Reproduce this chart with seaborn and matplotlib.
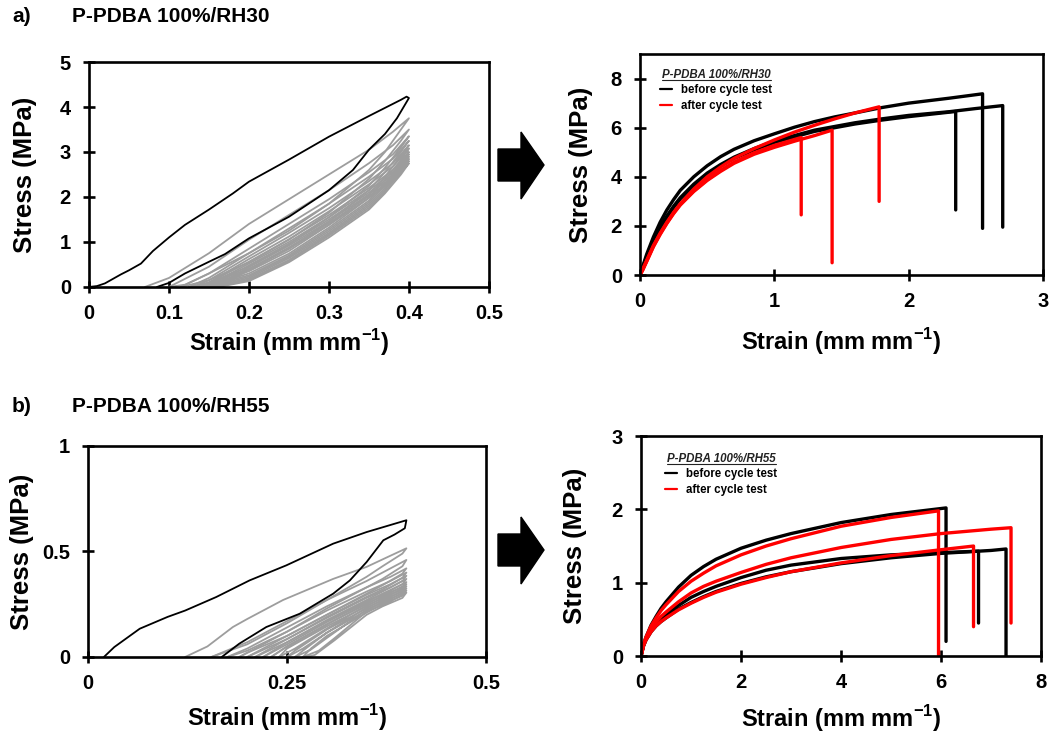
import matplotlib
matplotlib.use("Agg")
import pandas as pd
import seaborn as sns
import matplotlib.pyplot as plt
from matplotlib.patches import Polygon
from matplotlib.lines import Line2D
from matplotlib.ticker import FuncFormatter

# ---------------- a) cyclic test, RH30 ----------------
a_first_strain = [0, 0.01, 0.02, 0.03, 0.04, 0.05, 0.065, 0.08, 0.1, 0.12, 0.15, 0.18, 0.2, 0.25, 0.3, 0.35, 0.39, 0.397,
                  0.4, 0.395, 0.385, 0.37, 0.35, 0.33, 0.3, 0.25, 0.2, 0.17, 0.15, 0.12, 0.1, 0.085]
a_first_stress = [0, 0.02, 0.08, 0.18, 0.28, 0.37, 0.52, 0.8, 1.1, 1.38, 1.72, 2.08, 2.34, 2.83, 3.34, 3.8, 4.16, 4.23,
                  4.2, 4.05, 3.75, 3.4, 3.05, 2.6, 2.15, 1.56, 1.08, 0.73, 0.56, 0.3, 0.09, 0.0]

a_cycle_strain = [
    [0.07, 0.1, 0.15, 0.2, 0.25, 0.3, 0.35, 0.38, 0.4, 0.39, 0.37, 0.35, 0.3, 0.25, 0.2, 0.15, 0.12, 0.1],
    [0.1, 0.15, 0.2, 0.25, 0.3, 0.35, 0.38, 0.4, 0.39, 0.37, 0.35, 0.3, 0.25, 0.2, 0.15, 0.115],
    [0.115, 0.15, 0.2, 0.25, 0.3, 0.35, 0.38, 0.4, 0.39, 0.37, 0.35, 0.3, 0.25, 0.2, 0.15, 0.125],
    [0.125, 0.15, 0.2, 0.25, 0.3, 0.35, 0.38, 0.4, 0.39, 0.37, 0.35, 0.3, 0.25, 0.2, 0.15, 0.13],
    [0.13, 0.15, 0.2, 0.25, 0.3, 0.35, 0.38, 0.4, 0.39, 0.37, 0.35, 0.3, 0.25, 0.2, 0.15, 0.135],
    [0.135, 0.15, 0.2, 0.25, 0.3, 0.35, 0.38, 0.4, 0.39, 0.37, 0.35, 0.3, 0.25, 0.2, 0.15, 0.14],
    [0.14, 0.2, 0.25, 0.3, 0.35, 0.38, 0.4, 0.39, 0.37, 0.35, 0.3, 0.25, 0.2, 0.145],
    [0.145, 0.2, 0.25, 0.3, 0.35, 0.38, 0.4, 0.39, 0.37, 0.35, 0.3, 0.25, 0.2, 0.15],
    [0.15, 0.2, 0.25, 0.3, 0.35, 0.38, 0.4, 0.39, 0.37, 0.35, 0.3, 0.25, 0.2, 0.155],
    [0.155, 0.2, 0.25, 0.3, 0.35, 0.38, 0.4, 0.39, 0.37, 0.35, 0.3, 0.25, 0.2, 0.158],
    [0.158, 0.2, 0.25, 0.3, 0.35, 0.38, 0.4, 0.39, 0.37, 0.35, 0.3, 0.25, 0.2, 0.16],
    [0.16, 0.2, 0.25, 0.3, 0.35, 0.38, 0.4, 0.39, 0.37, 0.35, 0.3, 0.25, 0.2, 0.162],
]
a_cycle_stress = [
    [0, 0.2, 0.75, 1.4, 1.95, 2.5, 3.05, 3.45, 3.75, 3.5, 3.0, 2.6, 1.85, 1.25, 0.75, 0.3, 0.05, 0],
    [0, 0.45, 1.05, 1.6, 2.15, 2.75, 3.15, 3.5, 3.25, 2.8, 2.4, 1.65, 1.05, 0.55, 0.15, 0],
    [0, 0.3, 0.85, 1.4, 1.95, 2.55, 2.95, 3.35, 3.1, 2.65, 2.25, 1.55, 0.95, 0.45, 0.1, 0],
    [0, 0.2, 0.75, 1.3, 1.85, 2.45, 2.85, 3.25, 3.0, 2.55, 2.15, 1.45, 0.85, 0.4, 0.08, 0],
    [0, 0.15, 0.68, 1.2, 1.75, 2.35, 2.75, 3.15, 2.9, 2.45, 2.05, 1.38, 0.8, 0.35, 0.05, 0],
    [0, 0.1, 0.62, 1.12, 1.68, 2.28, 2.68, 3.08, 2.82, 2.38, 1.98, 1.32, 0.74, 0.3, 0.03, 0],
    [0, 0.56, 1.06, 1.6, 2.2, 2.6, 3.0, 2.75, 2.3, 1.92, 1.28, 0.7, 0.26, 0],
    [0, 0.52, 1.0, 1.55, 2.15, 2.55, 2.95, 2.7, 2.25, 1.88, 1.24, 0.67, 0.23, 0],
    [0, 0.48, 0.96, 1.5, 2.1, 2.5, 2.9, 2.65, 2.2, 1.84, 1.2, 0.64, 0.2, 0],
    [0, 0.44, 0.92, 1.46, 2.06, 2.45, 2.85, 2.6, 2.16, 1.8, 1.17, 0.6, 0.17, 0],
    [0, 0.4, 0.88, 1.42, 2.02, 2.4, 2.8, 2.55, 2.12, 1.76, 1.14, 0.58, 0.15, 0],
    [0, 0.37, 0.85, 1.38, 1.98, 2.36, 2.75, 2.5, 2.08, 1.72, 1.1, 0.55, 0.13, 0],
]

# ---------------- a) tensile test, RH30 ----------------
a_tensile_strain = [
    [0, 0.02, 0.05, 0.1, 0.15, 0.2, 0.25, 0.3, 0.4, 0.5, 0.6, 0.7, 0.85, 1.0, 1.15, 1.3, 1.45, 1.6, 1.8, 2.0, 2.3, 2.55, 2.55],
    [0, 0.02, 0.05, 0.1, 0.15, 0.2, 0.25, 0.3, 0.4, 0.5, 0.6, 0.7, 0.85, 1.0, 1.15, 1.3, 1.45, 1.6, 1.8, 2.0, 2.3, 2.5, 2.7, 2.7],
    [0, 0.02, 0.05, 0.1, 0.15, 0.2, 0.25, 0.3, 0.4, 0.5, 0.6, 0.7, 0.85, 1.0, 1.15, 1.3, 1.45, 1.6, 1.8, 2.0, 2.3, 2.35, 2.35],
    [0, 0.02, 0.05, 0.1, 0.15, 0.2, 0.25, 0.3, 0.4, 0.5, 0.6, 0.7, 0.85, 1.0, 1.15, 1.3, 1.45, 1.6, 1.78, 1.78],
    [0, 0.02, 0.05, 0.1, 0.15, 0.2, 0.25, 0.3, 0.4, 0.5, 0.6, 0.7, 0.85, 1.0, 1.15, 1.3, 1.43, 1.43],
    [0, 0.02, 0.05, 0.1, 0.15, 0.2, 0.25, 0.3, 0.4, 0.5, 0.6, 0.7, 0.85, 1.0, 1.15, 1.2, 1.2],
]
a_tensile_stress = [
    [0, 0.35, 0.85, 1.55, 2.15, 2.65, 3.07, 3.45, 4.0, 4.45, 4.82, 5.12, 5.47, 5.75, 6.02, 6.25, 6.44, 6.6, 6.82, 7.0, 7.2, 7.38, 1.9],
    [0, 0.3, 0.75, 1.4, 1.95, 2.4, 2.8, 3.15, 3.7, 4.15, 4.5, 4.8, 5.15, 5.45, 5.68, 5.9, 6.05, 6.2, 6.36, 6.5, 6.65, 6.78, 6.9, 1.95],
    [0, 0.28, 0.72, 1.35, 1.9, 2.35, 2.75, 3.1, 3.65, 4.1, 4.45, 4.75, 5.1, 5.4, 5.63, 5.85, 6.0, 6.15, 6.31, 6.45, 6.63, 6.66, 2.65],
    [0, 0.22, 0.6, 1.2, 1.7, 2.15, 2.55, 2.9, 3.5, 4.0, 4.4, 4.75, 5.15, 5.5, 5.82, 6.1, 6.36, 6.6, 6.85, 3.0],
    [0, 0.2, 0.55, 1.15, 1.65, 2.1, 2.5, 2.85, 3.4, 3.85, 4.22, 4.55, 4.92, 5.2, 5.45, 5.68, 5.9, 0.5],
    [0, 0.21, 0.57, 1.18, 1.68, 2.12, 2.52, 2.88, 3.42, 3.88, 4.26, 4.6, 4.98, 5.28, 5.52, 5.6, 2.45],
]
a_tensile_group = ["before cycle test", "before cycle test", "before cycle test",
                   "after cycle test", "after cycle test", "after cycle test"]

# ---------------- b) cyclic test, RH55 ----------------
b_first_strain = [0.02, 0.033, 0.065, 0.1, 0.122, 0.161, 0.203, 0.249, 0.308, 0.35, 0.4,
                  0.398, 0.385, 0.371, 0.35, 0.329, 0.308, 0.266, 0.224, 0.19, 0.168]
b_first_stress = [0, 0.047, 0.134, 0.19, 0.22, 0.284, 0.363, 0.434, 0.537, 0.592, 0.648,
                  0.61, 0.58, 0.553, 0.45, 0.363, 0.30, 0.205, 0.142, 0.063, 0]

b_cycle_strain = [
    [0.122, 0.15, 0.182, 0.2, 0.245, 0.308, 0.35, 0.38, 0.4, 0.395, 0.37, 0.35, 0.3, 0.25, 0.2, 0.155],
    [0.155, 0.2, 0.25, 0.3, 0.35, 0.38, 0.4, 0.395, 0.37, 0.35, 0.3, 0.25, 0.2, 0.175],
    [0.175, 0.2, 0.25, 0.3, 0.35, 0.38, 0.4, 0.395, 0.37, 0.35, 0.3, 0.25, 0.2, 0.19],
    [0.19, 0.25, 0.3, 0.35, 0.38, 0.4, 0.395, 0.37, 0.35, 0.3, 0.25, 0.2],
    [0.2, 0.25, 0.3, 0.35, 0.38, 0.4, 0.395, 0.37, 0.35, 0.3, 0.25, 0.21],
    [0.21, 0.25, 0.3, 0.35, 0.38, 0.4, 0.395, 0.37, 0.35, 0.3, 0.25, 0.22],
    [0.22, 0.25, 0.3, 0.35, 0.38, 0.4, 0.395, 0.37, 0.35, 0.3, 0.25, 0.23],
    [0.23, 0.25, 0.3, 0.35, 0.38, 0.4, 0.395, 0.37, 0.35, 0.3, 0.25, 0.24],
    [0.24, 0.26, 0.3, 0.35, 0.38, 0.4, 0.395, 0.37, 0.35, 0.3, 0.26, 0.25],
    [0.25, 0.27, 0.3, 0.35, 0.38, 0.4, 0.395, 0.37, 0.35, 0.3, 0.27, 0.26],
    [0.26, 0.28, 0.3, 0.35, 0.38, 0.4, 0.395, 0.37, 0.35, 0.3, 0.28, 0.27],
    [0.27, 0.29, 0.31, 0.35, 0.38, 0.4, 0.395, 0.37, 0.35, 0.31, 0.285, 0.275],
]
b_cycle_stress = [
    [0, 0.05, 0.142, 0.18, 0.27, 0.37, 0.427, 0.48, 0.515, 0.49, 0.43, 0.38, 0.27, 0.16, 0.06, 0],
    [0, 0.07, 0.17, 0.27, 0.36, 0.42, 0.46, 0.43, 0.37, 0.33, 0.23, 0.12, 0.03, 0],
    [0, 0.04, 0.14, 0.24, 0.33, 0.38, 0.42, 0.395, 0.34, 0.30, 0.20, 0.10, 0.02, 0],
    [0, 0.12, 0.22, 0.31, 0.36, 0.4, 0.375, 0.32, 0.285, 0.19, 0.085, 0],
    [0, 0.1, 0.2, 0.295, 0.345, 0.385, 0.36, 0.31, 0.27, 0.175, 0.07, 0],
    [0, 0.085, 0.185, 0.28, 0.33, 0.37, 0.345, 0.3, 0.26, 0.165, 0.06, 0],
    [0, 0.07, 0.17, 0.265, 0.315, 0.355, 0.33, 0.29, 0.25, 0.155, 0.05, 0],
    [0, 0.05, 0.155, 0.255, 0.305, 0.345, 0.32, 0.28, 0.24, 0.145, 0.04, 0],
    [0, 0.04, 0.135, 0.245, 0.295, 0.335, 0.31, 0.27, 0.23, 0.13, 0.03, 0],
    [0, 0.04, 0.115, 0.235, 0.285, 0.325, 0.3, 0.26, 0.22, 0.115, 0.03, 0],
    [0, 0.035, 0.09, 0.225, 0.275, 0.315, 0.29, 0.25, 0.21, 0.1, 0.04, 0],
    [0, 0.03, 0.09, 0.215, 0.265, 0.305, 0.28, 0.24, 0.2, 0.08, 0.01, 0],
]

# ---------------- b) tensile test, RH55 ----------------
b_tensile_strain = [
    [0, 0.05, 0.1, 0.2, 0.3, 0.4, 0.5, 0.75, 1.0, 1.25, 1.5, 2, 2.5, 3, 4, 5, 6.1, 6.1],
    [0, 0.05, 0.1, 0.2, 0.3, 0.4, 0.5, 0.75, 1.0, 1.25, 1.5, 2, 2.5, 3, 4, 5, 6, 6.75, 6.75],
    [0, 0.05, 0.1, 0.2, 0.3, 0.4, 0.5, 0.75, 1.0, 1.25, 1.5, 2, 2.5, 3, 4, 5, 6, 7, 7.3, 7.3],
    [0, 0.05, 0.1, 0.2, 0.3, 0.4, 0.5, 0.75, 1.0, 1.25, 1.5, 2, 2.5, 3, 4, 5, 5.95, 5.95],
    [0, 0.05, 0.1, 0.2, 0.3, 0.4, 0.5, 0.75, 1.0, 1.25, 1.5, 2, 2.5, 3, 4, 5, 6, 7, 7.4, 7.4],
    [0, 0.05, 0.1, 0.2, 0.3, 0.4, 0.5, 0.75, 1.0, 1.25, 1.5, 2, 2.5, 3, 4, 5, 6, 6.65, 6.65],
]
b_tensile_stress = [
    [0, 0.16, 0.26, 0.42, 0.54, 0.65, 0.74, 0.94, 1.1, 1.22, 1.32, 1.47, 1.58, 1.67, 1.82, 1.93, 2.02, 0.2],
    [0, 0.14, 0.23, 0.35, 0.43, 0.5, 0.56, 0.69, 0.8, 0.88, 0.95, 1.07, 1.17, 1.24, 1.33, 1.38, 1.41, 1.43, 0.45],
    [0, 0.14, 0.22, 0.33, 0.41, 0.47, 0.52, 0.64, 0.73, 0.81, 0.88, 0.99, 1.08, 1.15, 1.26, 1.34, 1.4, 1.44, 1.46, 0],
    [0, 0.16, 0.26, 0.41, 0.52, 0.62, 0.7, 0.88, 1.02, 1.13, 1.23, 1.38, 1.5, 1.6, 1.77, 1.89, 1.98, 0],
    [0, 0.15, 0.24, 0.37, 0.46, 0.54, 0.6, 0.74, 0.86, 0.95, 1.02, 1.14, 1.25, 1.34, 1.48, 1.59, 1.67, 1.73, 1.75, 0.45],
    [0, 0.14, 0.22, 0.33, 0.41, 0.47, 0.52, 0.63, 0.72, 0.8, 0.87, 0.98, 1.07, 1.15, 1.27, 1.37, 1.45, 1.5, 0.4],
]
b_tensile_group = ["before cycle test", "before cycle test", "before cycle test",
                   "after cycle test", "after cycle test", "after cycle test"]

GROUPS = ["before cycle test", "after cycle test"]
PALETTE = {"before cycle test": "#000000", "after cycle test": "#ff0000"}


def to_frame(strains, stresses, groups=None):
    rows = []
    for i, (xs, ys) in enumerate(zip(strains, stresses)):
        g = groups[i] if groups else "cycle"
        for x, y in zip(xs, ys):
            rows.append((i, g, x, y))
    return pd.DataFrame(rows, columns=["curve", "group", "strain", "stress"])


sns.set_style("ticks")
plt.rcParams["font.family"] = ["Liberation Sans", "DejaVu Sans"]
plt.rcParams["font.weight"] = "bold"
plt.rcParams["text.color"] = "black"
plt.rcParams["axes.labelcolor"] = "black"
plt.rcParams["xtick.color"] = "black"
plt.rcParams["ytick.color"] = "black"
plt.rcParams["mathtext.fontset"] = "custom"
plt.rcParams["mathtext.bf"] = "Liberation Sans:bold"
plt.rcParams["mathtext.rm"] = "Liberation Sans:bold"

fig = plt.figure(figsize=(10.49, 7.33), dpi=100)
ax_a1 = fig.add_axes([0.0848, 0.6085, 0.3813, 0.3069])
ax_a2 = fig.add_axes([0.6101, 0.6248, 0.3842, 0.3015])
ax_b1 = fig.add_axes([0.0839, 0.1037, 0.3794, 0.2879])
ax_b2 = fig.add_axes([0.6111, 0.1050, 0.3813, 0.3001])

fmt = FuncFormatter(lambda v, _: f"{v:g}")


def style(ax, xlim, ylim, xticks, yticks, xpad, ypad):
    ax.set_xlim(*xlim)
    ax.set_ylim(*ylim)
    ax.set_xticks(xticks)
    ax.set_yticks(yticks)
    ax.xaxis.set_major_formatter(fmt)
    ax.yaxis.set_major_formatter(fmt)
    for s in ax.spines.values():
        s.set_visible(True)
        s.set_linewidth(1.9)
        s.set_color("black")
    ax.tick_params(direction="inout", length=8, width=1.9, labelsize=14.5, colors="black")
    ax.tick_params(axis="x", pad=8)
    ax.tick_params(axis="y", pad=9)
    ax.set_xlabel(r"Strain (mm mm$^{\mathbf{-1}}$)", fontsize=17, fontweight="bold", labelpad=xpad)
    ax.set_ylabel("Stress (MPa)", fontsize=18.5, fontweight="bold", labelpad=ypad)


def cyclic(ax, first_x, first_y, cyc_x, cyc_y):
    sns.lineplot(data=to_frame(cyc_x, cyc_y), x="strain", y="stress", units="curve",
                 estimator=None, sort=False, color="#9d9d9d", lw=1.3, ax=ax)
    sns.lineplot(data=to_frame([first_x], [first_y]), x="strain", y="stress", units="curve",
                 estimator=None, sort=False, color="black", lw=1.3, ax=ax)


def tensile(ax, xs, ys, groups, title, anchor):
    sns.lineplot(data=to_frame(xs, ys, groups), x="strain", y="stress", units="curve",
                 hue="group", hue_order=GROUPS, palette=PALETTE, estimator=None, sort=False,
                 lw=2.4, ax=ax)
    handles, labels = ax.get_legend_handles_labels()
    leg = ax.legend(handles, labels, title=title, loc="upper left", bbox_to_anchor=anchor,
                    frameon=False, handlelength=1.0, handletextpad=0.8, labelspacing=0.3,
                    prop={"size": 8.3, "weight": "bold"})
    leg.get_title().set_fontsize(8.3)
    leg.get_title().set_fontstyle("italic")
    leg.get_title().set_fontweight("bold")
    leg.get_title().set_color("#222222")
    for line in leg.get_lines():
        line.set_linewidth(1.6)
    return leg


cyclic(ax_a1, a_first_strain, a_first_stress, a_cycle_strain, a_cycle_stress)
style(ax_a1, (0, 0.5), (0, 5), [0, 0.1, 0.2, 0.3, 0.4, 0.5], [0, 1, 2, 3, 4, 5], 3, 16)

leg_a = tensile(ax_a2, a_tensile_strain, a_tensile_stress, a_tensile_group, "P-PDBA 100%/RH30", (0.025, 0.98))
style(ax_a2, (0, 3), (0, 9), [0, 1, 2, 3], [0, 2, 4, 6, 8], 11, 13)

cyclic(ax_b1, b_first_strain, b_first_stress, b_cycle_strain, b_cycle_stress)
style(ax_b1, (0, 0.5), (0, 1), [0, 0.25, 0.5], [0, 0.5, 1], 7, 5.5)

leg_b = tensile(ax_b2, b_tensile_strain, b_tensile_stress, b_tensile_group, "P-PDBA 100%/RH55", (0.035, 0.97))
style(ax_b2, (0, 8), (0, 3), [0, 2, 4, 6, 8], [0, 1, 2, 3], 8.5, 17.5)

# panel labels
fig.text(12 / 1049, 1 - 16 / 733, "a)", fontsize=15, fontweight="bold", va="center")
fig.text(72 / 1049, 1 - 16 / 733, "P-PDBA 100%/RH30", fontsize=15, fontweight="bold", va="center")
fig.text(12 / 1049, 1 - 406 / 733, "b)", fontsize=15, fontweight="bold", va="center")
fig.text(72 / 1049, 1 - 406 / 733, "P-PDBA 100%/RH55", fontsize=15, fontweight="bold", va="center")

# block arrows between panels
for yc in (165, 550):
    pts = [(498, yc - 16), (521, yc - 16), (521, yc - 33), (544, yc), (521, yc + 34),
           (521, yc + 16), (498, yc + 16)]
    fig.patches.append(Polygon([(x / 1049, 1 - y / 733) for x, y in pts], closed=True,
                               transform=fig.transFigure, facecolor="black", edgecolor="black"))

# underline legend titles
fig.canvas.draw()
inv = fig.transFigure.inverted()
for leg in (leg_a, leg_b):
    bb = leg.get_title().get_window_extent()
    (x0, y0), (x1, _) = inv.transform([(bb.x0, bb.y0), (bb.x1, bb.y1)])
    fig.add_artist(Line2D([x0, x1], [y0 + 0.001, y0 + 0.001], transform=fig.transFigure,
                          color="#222222", lw=0.8))

fig.savefig("out.png", dpi=100)
